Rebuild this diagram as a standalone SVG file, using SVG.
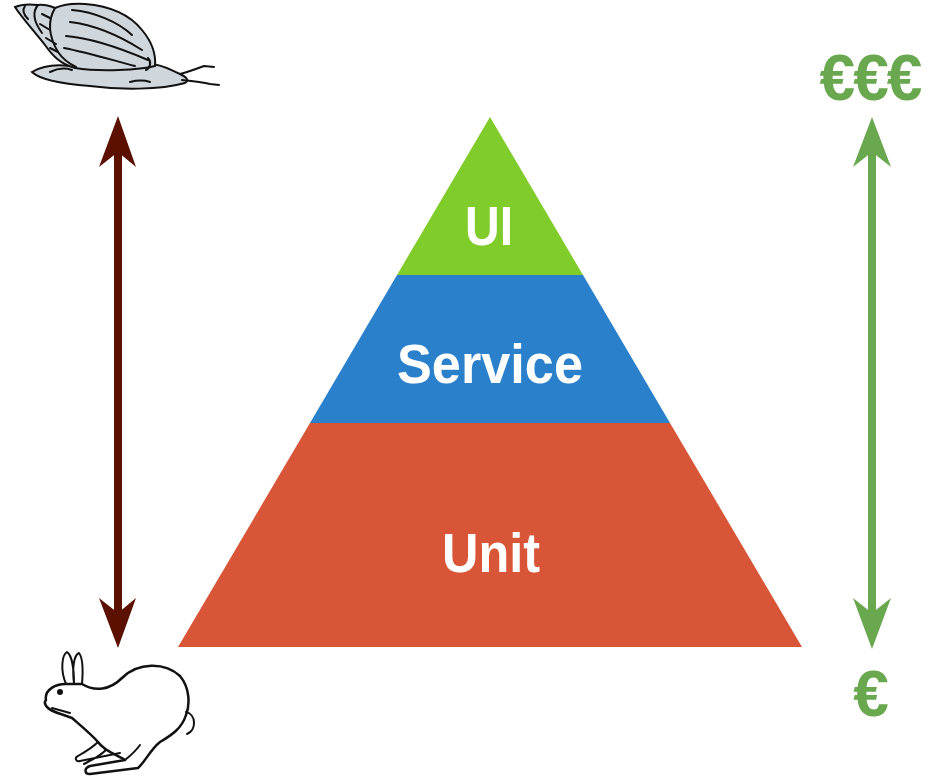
<svg xmlns="http://www.w3.org/2000/svg" width="936" height="780" viewBox="0 0 936 780">
<style>
.lbl{font-family:"Liberation Sans",Arial,sans-serif;font-weight:bold;fill:#fff;font-size:55px;text-anchor:middle}
.eur{font-family:"Liberation Sans",Arial,sans-serif;font-weight:bold;fill:#6aa84f;font-size:64px;text-anchor:middle}
.ink{fill:none;stroke:#111;stroke-width:2;stroke-linecap:round;stroke-linejoin:round}
</style>
<rect width="936" height="780" fill="#fff"/>
<g id="pyramid">
<g id="unit"><polygon points="310,423 670,423 802,647 178,647" fill="#d85637"/><text class="lbl" x="491" y="572" textLength="98" lengthAdjust="spacingAndGlyphs">Unit</text></g>
<g id="service"><polygon points="397,275 583,275 670,423 310,423" fill="#2a80cb"/><text class="lbl" x="490" y="383" textLength="186" lengthAdjust="spacingAndGlyphs">Service</text></g>
<g id="ui"><polygon points="490,117 583,275 397,275" fill="#80cc2a"/><text class="lbl" x="489" y="245" textLength="48" lengthAdjust="spacingAndGlyphs">UI</text></g>
</g>
<g id="connectors">
<g id="speed-arrow" fill="#5c1100">
<rect x="114" y="150" width="8" height="465"/>
<polygon points="118,116 136,167 118,152 99,167"/>
<polygon points="118,648 136,598 118,613 99,598"/>
</g>
<g id="cost-arrow" fill="#6aa84f">
<rect x="868" y="150" width="8" height="465"/>
<polygon points="872,117 891,167 872,152 853,167"/>
<polygon points="872,649 891,598 872,613 853,598"/>
</g>
</g>
<g id="cost-high"><text class="eur" x="870" y="100" letter-spacing="-2">€€€</text></g>
<g id="cost-low"><text class="eur" x="871" y="716">€</text></g>
<g id="snail">
<path d="M32,72 C42,66 55,64 70,66 L150,64 C162,64 170,70 180,74 C186,77 190,80 185,83 C160,90 120,90 90,86 C65,84 40,80 32,72 Z" fill="#cfd6dc" stroke="#111" stroke-width="2"/>
<path d="M15,7 C22,4 30,4 38,5 C45,4 50,6 55,8 C62,5 72,3 85,4 C110,6 130,15 142,30 C152,42 156,55 155,66 C140,70 100,72 75,68 C60,64 52,55 45,45 C35,32 22,18 15,7 Z" fill="#cfd6dc" stroke="#111" stroke-width="2"/>
<path class="ink" d="M55,8 C48,20 48,35 58,52 C62,58 70,64 76,67"/>
<path class="ink" d="M38,5 C32,12 34,22 42,33 M25,6 C22,10 24,15 28,19"/>
<path class="ink" d="M72,10 C95,12 118,22 132,35 M70,22 C95,25 120,36 142,50 M66,36 C92,38 120,48 148,60 M64,48 C85,52 112,60 135,66"/>
<path class="ink" d="M42,14 L50,18 M40,24 L50,30 M46,38 L56,44 M50,48 L58,52"/>
<path class="ink" d="M148,58 C152,62 150,68 146,70"/>
<path class="ink" d="M180,74 C188,72 196,69 204,66 L214,67 M182,80 C192,81 202,82 210,84 L219,85"/>
<path class="ink" d="M50,72 C58,68 66,68 72,70 M130,82 C138,80 144,80 150,82"/>
</g>
<g id="rabbit">
<path d="M46,700 C44,690 56,683 68,684 L82,684 C95,692 110,690 122,678 C138,662 165,662 180,676 C190,688 190,705 186,715 C182,728 172,735 160,742 C150,750 145,762 138,768 L90,774 C84,774 84,768 90,766 L125,760 C118,755 105,752 98,742 C92,735 80,725 72,718 C62,714 52,712 48,708 C45,705 44,702 46,700 Z" fill="#fff" stroke="#111" stroke-width="2.5" stroke-linejoin="round"/>
<path class="ink" stroke-width="2.5" d="M66,684 C60,670 62,655 67,652 C72,655 74,670 74,684 M74,683 C72,668 74,655 79,653 C83,658 83,672 82,684"/>
<path class="ink" stroke-width="2.5" d="M186,712 C196,714 197,730 187,734"/>
<path class="ink" stroke-width="2.5" d="M98,742 C92,748 85,752 78,756 C74,758 76,762 80,761 L120,753 M106,750 C100,756 92,760 84,764 M52,708 L70,713 M140,745 C135,752 130,756 125,760"/>
<circle cx="60" cy="692" r="3" fill="#111"/>
</g>
</svg>
